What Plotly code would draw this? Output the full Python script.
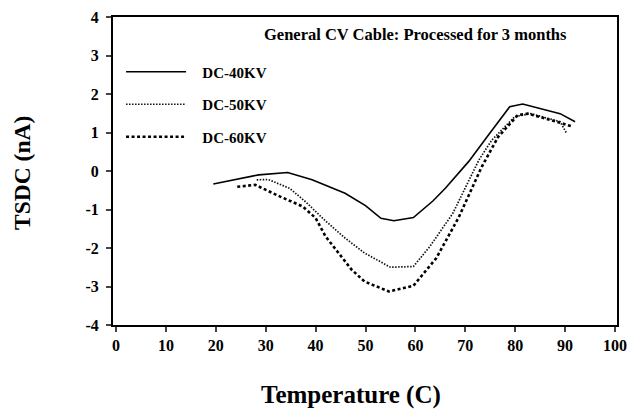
import plotly.graph_objects as go

t_40kv = [19.5, 28.6, 34.4, 39.3, 45.9, 50, 53.1, 55.7, 59.6, 63.5, 66, 70.7, 74.6, 78.9, 81.5, 89, 92]
v_40kv = [-0.34, -0.10, -0.04, -0.23, -0.58, -0.9, -1.23, -1.29, -1.21, -0.78, -0.45, 0.25, 0.93, 1.67, 1.74, 1.49, 1.28]

t_50kv = [28.2, 30.5, 34.8, 38, 42, 45.9, 49.8, 55, 59.6, 62.9, 67.5, 72.7, 75.3, 79.9, 83.1, 89, 90.3]
v_50kv = [-0.23, -0.22, -0.45, -0.8, -1.3, -1.74, -2.13, -2.50, -2.48, -1.96, -1.10, 0.28, 0.8, 1.41, 1.49, 1.28, 0.98]

t_60kv = [24.3, 27.9, 32.8, 37.4, 40, 42, 47.2, 49.8, 54.7, 59.6, 64.2, 68.7, 73.3, 76.6, 80.5, 82.5, 89.6, 91.6]
v_60kv = [-0.41, -0.36, -0.66, -0.92, -1.22, -1.7, -2.56, -2.87, -3.13, -2.98, -2.26, -1.2, 0.11, 0.89, 1.45, 1.49, 1.23, 1.15]

x_ticks = [0, 10, 20, 30, 40, 50, 60, 70, 80, 90, 100]
y_ticks = [-4, -3, -2, -1, 0, 1, 2, 3, 4]
y_ticktext = [str(v) for v in y_ticks]  # plain hyphen like the original

FONT = "Times New Roman, Liberation Serif, serif"
PAD = "\u00a0" * 3  # pushes legend labels away from the line samples

fig = go.Figure()
fig.add_trace(go.Scatter(x=t_40kv, y=v_40kv, mode="lines", name=PAD + "DC-40KV", legendgroup="a",
                         line=dict(color="black", width=1.6)))
fig.add_trace(go.Scatter(x=t_50kv, y=v_50kv, mode="lines", name=PAD + "DC-50KV", legendgroup="b",
                         line=dict(color="#111111", width=1.7, dash="1.5px,1.5px")))
fig.add_trace(go.Scatter(x=t_60kv, y=v_60kv, mode="lines", name=PAD + "DC-60KV", legendgroup="c",
                         line=dict(color="black", width=2.6, dash="3px,2.5px")))

title_font = dict(family=FONT, size=16.5, color="black", weight="bold")
axis_title_font = dict(family=FONT, size=25, color="black", weight="bold")

fig.add_annotation(text="General CV Cable: Processed for 3 months", xref="paper", yref="paper",
                   x=0.60, y=0.982, showarrow=False, font=title_font)
# axis titles as annotations so they can sit exactly where the scan has them
fig.add_annotation(text="Temperature (C)", xref="paper", yref="paper", x=0.472, y=0,
                   yanchor="middle", yshift=-70, showarrow=False, font=axis_title_font)
fig.add_annotation(text="TSDC (nA)", xref="paper", yref="paper", x=0, y=0.5,
                   xanchor="center", xshift=-91, yshift=-2, textangle=-90, showarrow=False,
                   font=dict(family=FONT, size=23.5, color="black", weight="bold"))

fig.update_xaxes(range=[-0.6, 100.4], tickvals=x_ticks, ticks="outside", ticklen=5, tickwidth=1.5,
                 showgrid=False, zeroline=False, showline=True, linewidth=2, linecolor="black", mirror=True,
                 tickfont=dict(family=FONT, size=16, color="black", weight="bold"))
fig.update_yaxes(range=[-4, 4], tickvals=y_ticks, ticktext=y_ticktext, ticks="outside", ticklen=5,
                 tickwidth=1.5, showgrid=False, zeroline=False, showline=True, linewidth=2,
                 linecolor="black", mirror=True, ticklabelstandoff=4,
                 tickfont=dict(family=FONT, size=16, color="black", weight="bold"))

fig.update_layout(
    width=636, height=409,
    margin=dict(l=113, r=9, t=16, b=84),
    paper_bgcolor="white", plot_bgcolor="white",
    showlegend=True,
    legend=dict(x=0.016, y=0.875, xanchor="left", yanchor="top", bgcolor="rgba(0,0,0,0)",
                tracegroupgap=10, itemwidth=60,
                font=dict(family=FONT, size=15, color="black", weight="bold")),
)

# drop the browser's default 8px body margin so the figure sits at the page origin
fig.write_html("out.html", config={"displayModeBar": False},
               post_script="document.body.style.margin='0';")
